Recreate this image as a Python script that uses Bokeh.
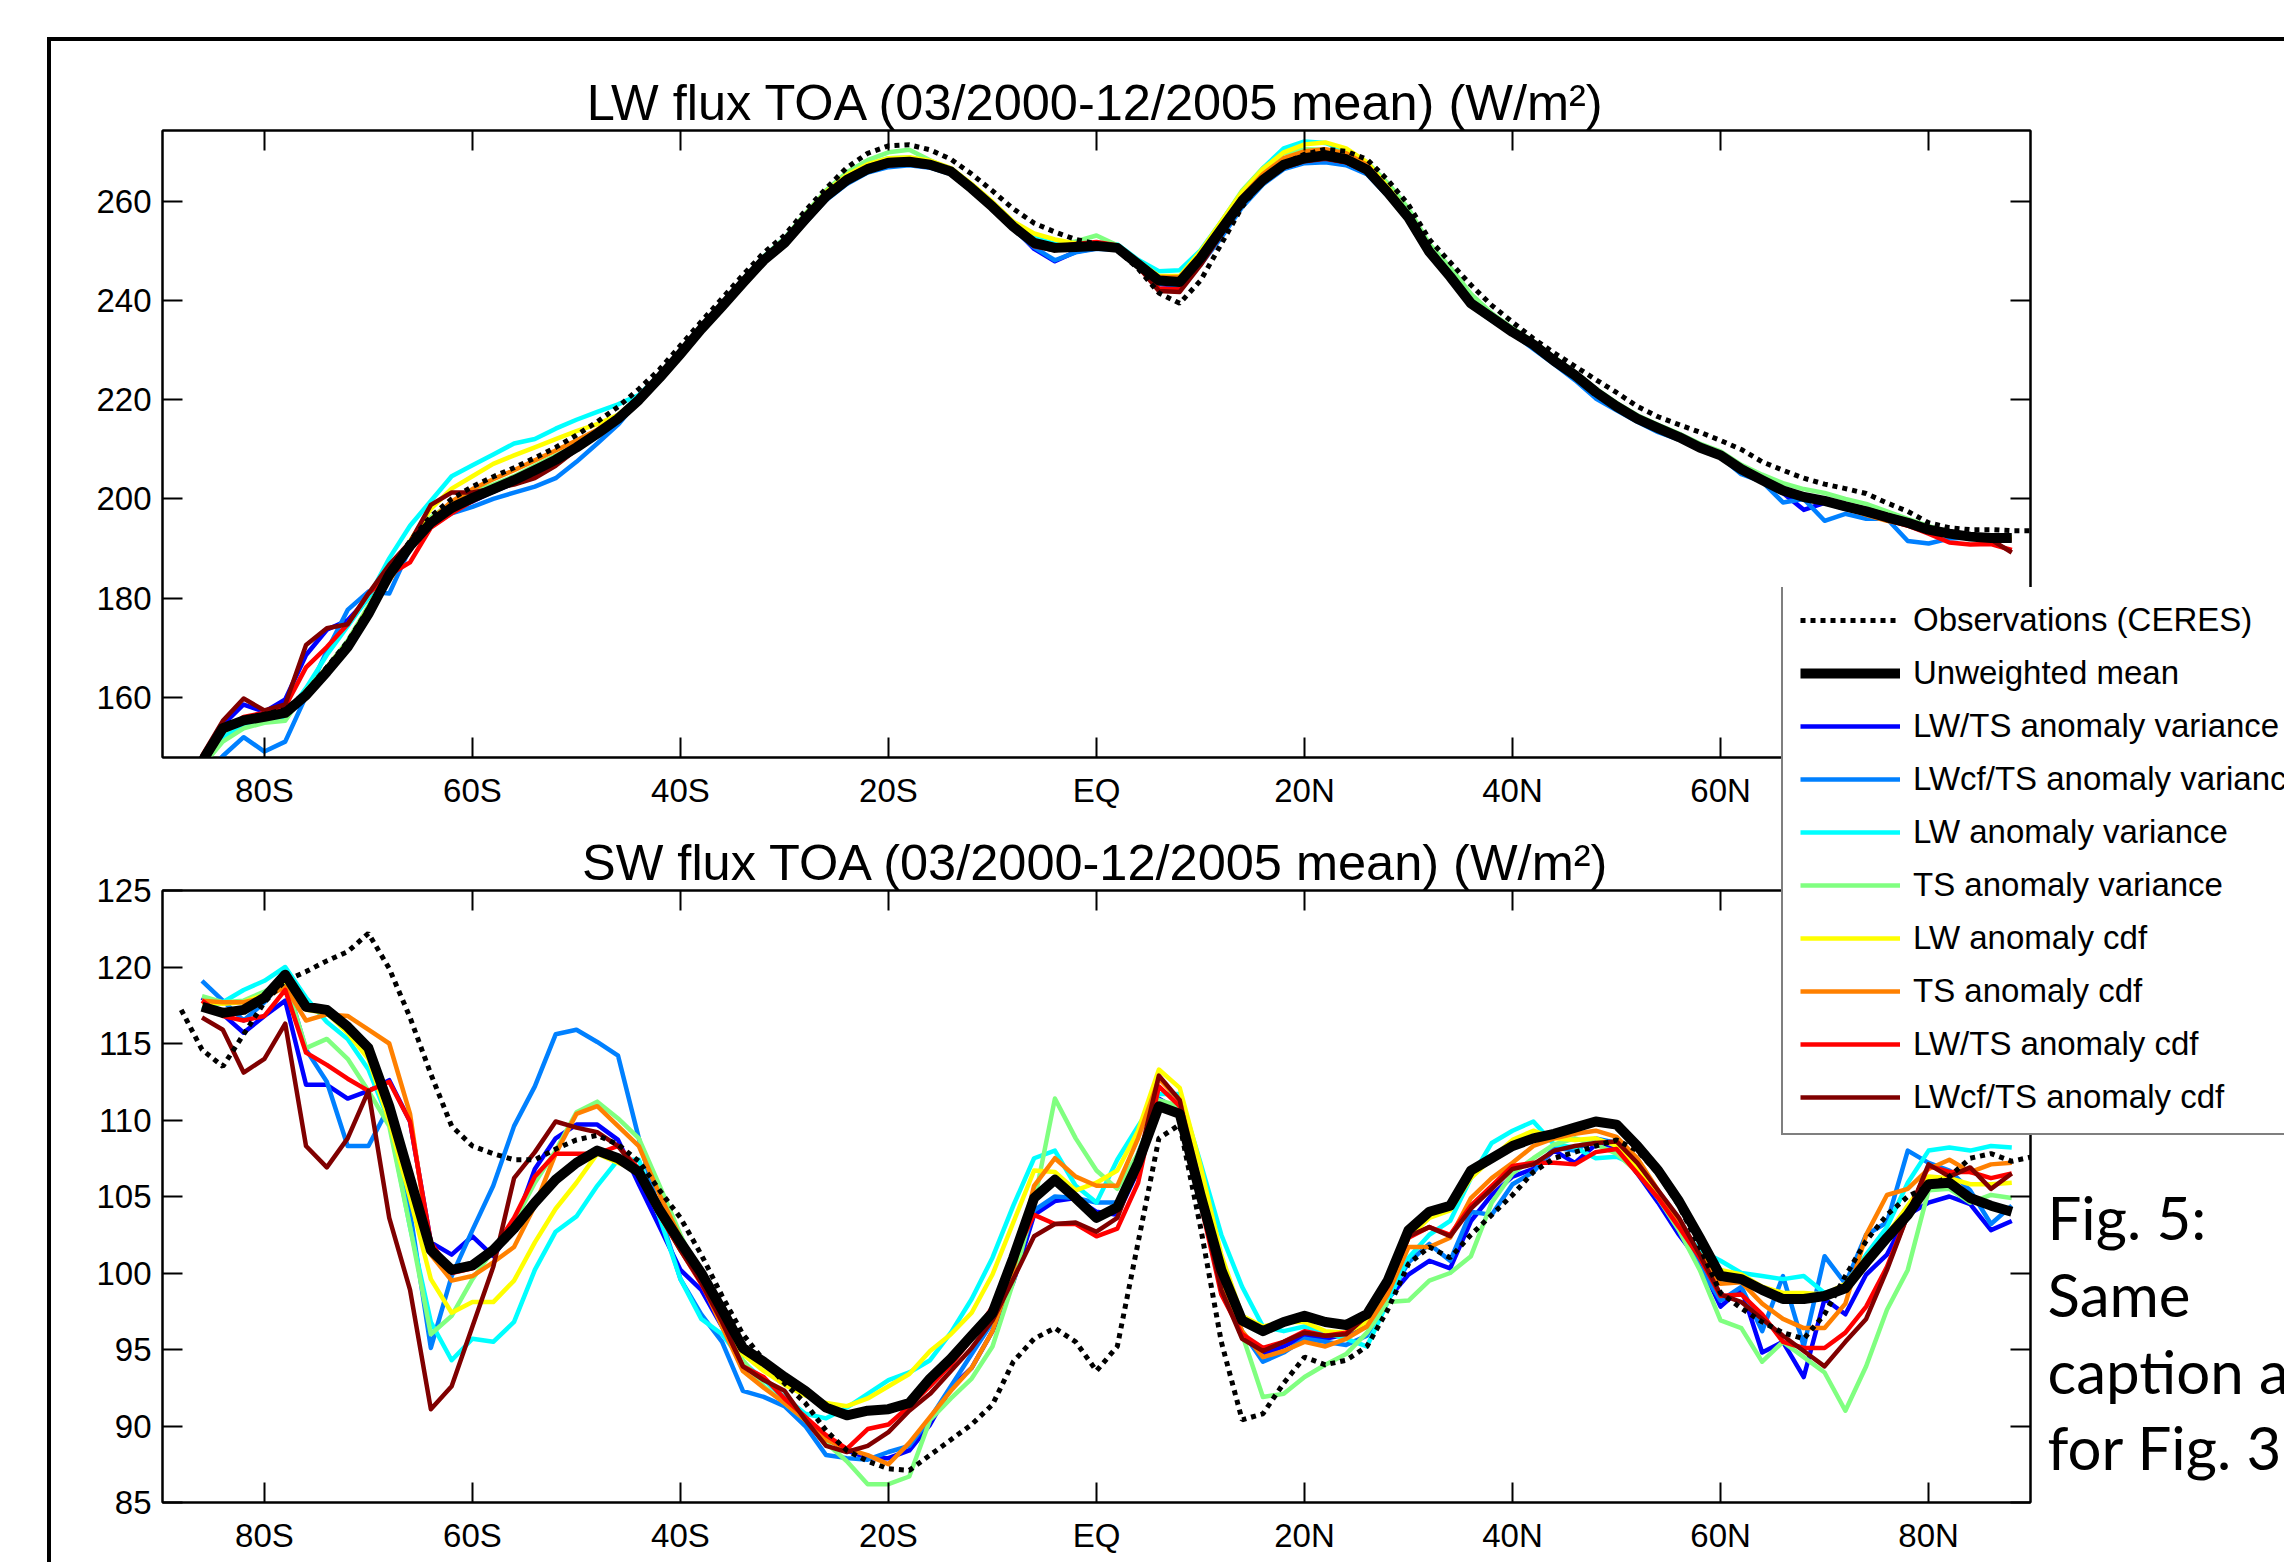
from bokeh.plotting import figure
from bokeh.models import Range1d, LinearAxis, FixedTicker, Legend, LegendItem, Label
from bokeh.layouts import column
from bokeh.embed import file_html
from bokeh.resources import INLINE

FONT = "Liberation Sans"

# ---------------- categories / ticks ----------------
LAT_TICKS = [-80, -60, -40, -20, 0, 20, 40, 60, 80]
LAT_LABELS = ["80S", "60S", "40S", "20S", "EQ", "20N", "40N", "60N", "80N"]
LW_TICKS = [160, 180, 200, 220, 240, 260]
SW_TICKS = [85, 90, 95, 100, 105, 110, 115, 120, 125]

lat_model = list(range(-86, 90, 2))   # -86 ... 88
lat_obs = list(range(-88, 92, 2))     # -88 ... 90

NAMES = ["Observations (CERES)", "Unweighted mean",
         "LW/TS anomaly variance", "LWcf/TS anomaly variance",
         "LW anomaly variance", "TS anomaly variance",
         "LW anomaly cdf", "TS anomaly cdf",
         "LW/TS anomaly cdf", "LWcf/TS anomaly cdf"]
COLORS = ["#0000FF", "#0080FF", "#00FFFF", "#80FF80",
          "#FFFF00", "#FF8000", "#FF0000", "#800000"]

# ---------------- LW flux TOA ----------------
lw_obs = [140.0,
    146.0, 153.2, 155.5, 156.5, 157.5, 161.0, 166.0, 171.2, 177.8, 185.5, 191.5,
    196.5, 200.0, 202.5, 204.5, 206.3, 208.3, 210.4, 212.9, 215.6, 218.6, 222.2,
    226.2, 231.0, 235.8, 240.5, 245.2, 249.7, 253.2, 258.2, 262.7, 266.9, 269.8,
    271.3, 271.5, 270.5, 268.6, 265.6, 262.2, 258.6, 255.7, 253.9, 252.4, 251.5,
    250.3, 246.5, 241.6, 239.5, 244.1, 251.5, 259.0, 264.4, 267.7, 269.6, 270.6,
    270.2, 268.6, 264.4, 259.4, 252.4, 247.8, 243.2, 239.1, 235.7, 232.4, 229.5,
    226.8, 224.1, 221.5, 218.7, 216.6, 215.0, 213.5, 211.8, 210.0, 207.5, 205.8,
    204.2, 203.0, 202.1, 201.1, 199.2, 197.5, 195.2, 194.2, 193.8, 193.8, 193.6,
    193.6]
lw_mean = [
    147.0, 153.7, 155.3, 156.0, 156.8, 160.4, 165.1, 170.1, 176.8, 184.7, 190.5,
    195.2, 198.2, 200.2, 202.0, 203.8, 205.8, 207.9, 210.4, 213.2, 216.2, 220.0,
    224.5, 229.3, 234.3, 238.9, 243.6, 248.2, 251.7, 256.5, 261.1, 264.4, 266.6,
    267.9, 268.1, 267.5, 266.1, 262.7, 259.0, 255.0, 251.7, 250.7, 250.9, 251.1,
    250.7, 247.4, 244.1, 243.8, 248.6, 254.4, 260.2, 264.4, 267.5, 268.8, 269.4,
    268.6, 266.5, 261.9, 256.8, 249.9, 244.9, 239.5, 236.6, 233.7, 231.2, 227.9,
    225.0, 221.6, 218.7, 216.2, 214.3, 212.5, 210.4, 208.8, 206.0, 203.8, 201.7,
    200.4, 199.6, 198.5, 197.5, 196.3, 195.2, 193.8, 193.0, 192.4, 192.1, 192.1]
lw_lwts_var = [
    147.0, 154.4, 158.5, 157.0, 159.5, 168.5, 173.6, 175.5, 180.0, 185.0, 191.0,
    195.5, 197.8, 199.5, 201.5, 203.2, 205.3, 207.5, 210.3, 213.2, 216.2, 220.0,
    224.4, 229.2, 234.2, 238.8, 243.5, 248.0, 251.5, 256.2, 260.7, 264.0, 266.3,
    267.5, 267.8, 267.2, 265.8, 262.6, 259.0, 254.8, 250.5, 248.0, 249.9, 250.6,
    250.5, 247.5, 243.4, 243.0, 247.7, 253.5, 259.5, 263.8, 266.9, 268.2, 268.6,
    267.8, 265.9, 261.5, 256.6, 249.7, 244.8, 239.3, 236.3, 233.5, 230.9, 227.6,
    224.6, 221.2, 218.3, 215.9, 214.0, 212.2, 210.2, 208.8, 205.7, 203.5, 201.2,
    197.8, 199.2, 198.0, 197.0, 196.0, 195.0, 193.6, 193.2, 192.8, 192.5, 192.2]
lw_lwcfts_var = [
    144.0, 148.1, 151.9, 149.0, 151.0, 160.2, 169.3, 177.6, 181.3, 180.9, 190.1,
    194.6, 197.1, 198.4, 200.0, 201.3, 202.5, 204.2, 207.5, 211.2, 215.0, 220.0,
    224.3, 229.0, 234.0, 238.6, 243.3, 247.8, 251.3, 255.8, 260.3, 263.6, 265.9,
    267.0, 267.4, 266.9, 265.6, 262.5, 258.8, 254.5, 250.8, 248.2, 249.8, 250.5,
    250.3, 247.3, 243.5, 243.2, 247.3, 252.8, 258.9, 263.5, 266.6, 267.8, 268.0,
    267.4, 265.6, 261.2, 256.3, 249.5, 244.8, 239.2, 236.0, 233.4, 230.3, 227.2,
    224.0, 220.3, 217.9, 215.6, 213.5, 212.0, 210.1, 208.5, 205.0, 203.5, 199.3,
    200.0, 195.6, 197.0, 196.0, 196.0, 191.5, 191.0, 192.0, 192.2, 192.0, 191.8]
lw_lw_var = [
    146.0, 152.0, 154.3, 155.2, 156.0, 161.8, 168.5, 174.3, 180.1, 188.0, 194.6,
    199.6, 204.6, 206.8, 209.0, 211.2, 212.1, 214.2, 216.0, 217.6, 219.1, 221.0,
    225.0, 229.6, 234.6, 239.3, 244.2, 248.9, 252.6, 257.4, 262.0, 265.4, 267.6,
    268.8, 268.9, 268.2, 266.7, 263.4, 259.8, 255.9, 252.8, 251.5, 251.8, 251.8,
    251.4, 248.3, 246.0, 246.2, 250.2, 256.0, 262.0, 266.8, 270.8, 272.2, 271.9,
    270.4, 267.6, 262.8, 257.3, 250.3, 245.3, 239.9, 236.9, 234.0, 231.3, 228.2,
    225.3, 221.9, 219.0, 216.5, 214.6, 212.8, 210.8, 209.0, 206.3, 204.0, 202.0,
    200.7, 199.9, 198.8, 197.8, 196.6, 195.5, 194.2, 193.3, 192.6, 192.3, 192.3]
lw_ts_var = [
    146.0, 151.0, 153.7, 154.8, 155.2, 161.4, 166.0, 171.4, 178.4, 185.5, 191.3,
    196.3, 199.2, 201.3, 202.9, 204.6, 206.7, 208.8, 210.8, 213.5, 216.5, 220.2,
    224.8, 229.6, 234.6, 239.3, 244.2, 248.9, 252.6, 257.6, 262.3, 266.0, 268.4,
    270.0, 270.5, 268.4, 266.5, 263.0, 259.4, 255.4, 251.8, 251.2, 252.0, 253.2,
    251.2, 247.8, 244.6, 244.6, 249.6, 256.0, 262.3, 266.8, 269.8, 270.6, 270.5,
    269.8, 268.0, 263.8, 258.6, 251.5, 246.8, 241.4, 237.5, 234.5, 231.8, 228.6,
    225.6, 222.3, 219.4, 216.9, 215.0, 213.2, 211.2, 209.6, 206.9, 204.9, 203.2,
    202.0, 201.2, 200.0, 199.0, 197.5, 196.0, 194.5, 193.4, 192.6, 192.4, 192.3]
lw_lw_cdf = [
    147.0, 153.0, 155.0, 156.0, 157.0, 161.0, 166.0, 171.0, 178.0, 185.5, 191.5,
    198.0, 202.1, 204.6, 207.1, 208.8, 210.4, 212.1, 213.7, 215.1, 217.0, 220.5,
    224.9, 229.6, 234.6, 239.2, 244.0, 248.6, 252.4, 257.3, 262.0, 265.4, 267.6,
    268.8, 269.0, 268.3, 266.8, 263.6, 260.0, 256.0, 253.6, 252.4, 251.6, 251.5,
    251.2, 248.0, 245.0, 245.0, 250.0, 256.0, 262.0, 266.6, 270.0, 271.6, 272.0,
    270.8, 268.0, 263.0, 257.4, 250.5, 245.4, 240.0, 237.0, 234.0, 231.3, 228.2,
    225.2, 221.8, 218.9, 216.4, 214.5, 212.7, 210.6, 209.0, 206.2, 204.0, 201.9,
    200.6, 199.8, 198.7, 197.7, 196.5, 195.4, 194.0, 193.2, 192.6, 192.2, 192.2]
lw_ts_cdf = [
    147.0, 153.5, 155.2, 156.0, 157.0, 160.8, 165.5, 170.5, 177.0, 183.5, 190.0,
    195.8, 199.5, 202.0, 204.0, 205.8, 207.8, 209.8, 211.8, 214.0, 216.8, 220.2,
    224.7, 229.5, 234.5, 239.0, 243.8, 248.4, 252.0, 256.9, 261.6, 265.0, 267.2,
    268.4, 268.6, 267.9, 266.4, 263.0, 259.4, 255.4, 252.2, 251.0, 250.6, 250.6,
    250.4, 247.8, 244.8, 244.8, 249.4, 255.2, 261.0, 265.6, 268.8, 270.2, 270.6,
    269.8, 267.5, 262.6, 257.0, 250.2, 245.0, 239.6, 236.7, 233.8, 231.2, 228.0,
    225.1, 221.7, 218.8, 216.3, 214.4, 212.6, 210.5, 208.9, 206.1, 203.8, 201.5,
    200.3, 199.4, 198.3, 196.8, 195.6, 194.8, 193.6, 192.8, 192.2, 192.0, 191.8]
lw_lwts_cdf = [
    147.5, 153.1, 156.0, 156.8, 158.1, 166.0, 170.1, 174.7, 180.9, 184.7, 187.2,
    194.2, 197.1, 199.6, 201.7, 203.4, 205.0, 207.5, 210.0, 212.9, 216.2, 220.0,
    224.4, 229.2, 234.2, 238.8, 243.4, 248.0, 251.4, 256.0, 260.6, 263.9, 266.2,
    267.4, 267.7, 267.2, 265.9, 262.8, 259.0, 255.0, 251.6, 250.8, 251.5, 251.9,
    251.2, 246.8, 242.5, 242.3, 247.8, 253.8, 259.8, 264.0, 267.0, 268.3, 268.8,
    268.0, 266.0, 261.6, 256.6, 249.8, 244.8, 239.4, 236.5, 233.6, 231.0, 227.8,
    224.9, 221.5, 218.6, 216.1, 214.2, 212.4, 210.3, 208.7, 205.9, 203.7, 201.6,
    200.2, 199.2, 198.2, 197.0, 195.8, 194.6, 193.0, 191.2, 190.8, 190.9, 189.7]
lw_lwcfts_cdf = [
    148.1, 155.2, 159.7, 157.3, 158.5, 170.5, 173.9, 174.7, 180.9, 186.7, 191.3,
    198.8, 201.3, 201.3, 202.1, 202.9, 204.2, 206.7, 210.0, 213.2, 216.2, 220.0,
    224.4, 229.2, 234.2, 238.8, 243.4, 248.0, 251.4, 256.0, 260.6, 263.9, 266.2,
    267.4, 267.6, 267.0, 265.7, 262.5, 258.8, 254.8, 251.0, 250.2, 250.8, 251.0,
    250.6, 247.0, 242.0, 241.8, 247.2, 253.4, 259.5, 263.8, 266.9, 268.2, 268.7,
    268.0, 266.0, 261.6, 256.6, 249.8, 244.8, 239.4, 236.5, 233.6, 231.0, 227.8,
    224.9, 221.5, 218.6, 216.1, 214.2, 212.4, 210.3, 208.7, 205.9, 203.8, 201.9,
    200.8, 200.0, 199.0, 198.0, 196.8, 195.6, 194.0, 192.6, 192.2, 191.8, 189.2]

# ---------------- SW flux TOA ----------------
sw_obs = [117.2,
    114.6, 113.5, 115.6, 117.7, 119.1, 119.7, 120.4, 121.0, 122.2, 119.9, 116.7,
    113.0, 109.6, 108.3, 107.8, 107.4, 107.4, 108.1, 108.7, 109.0, 108.4, 107.3,
    105.4, 103.6, 101.2, 98.5, 96.0, 94.3, 92.8, 91.5, 89.7, 88.4, 87.7,
    87.2, 87.1, 88.1, 89.1, 90.1, 91.4, 94.2, 95.7, 96.4, 95.5, 93.6,
    95.2, 102.0, 108.8, 109.7, 103.0, 95.5, 90.4, 90.8, 92.8, 94.5, 94.0,
    94.3, 95.2, 97.6, 100.6, 101.7, 101.0, 102.5, 103.8, 105.1, 106.6, 107.5,
    107.9, 108.3, 108.7, 108.0, 106.5, 104.4, 101.7, 98.7, 97.7, 96.8, 96.1,
    95.7, 97.3, 99.8, 102.1, 103.8, 105.0, 105.7, 106.3, 107.5, 107.8, 107.3,
    107.6]
sw_mean = [
    117.4, 117.0, 117.2, 118.0, 119.5, 117.4, 117.2, 116.1, 114.7, 110.9, 106.2,
    101.5, 100.2, 100.5, 101.5, 102.9, 104.6, 106.1, 107.2, 108.0, 107.5, 106.6,
    104.1, 102.0, 100.0, 97.6, 95.1, 94.2, 93.2, 92.3, 91.2, 90.7, 91.0,
    91.1, 91.5, 93.1, 94.4, 95.9, 97.4, 101.0, 104.9, 106.1, 104.9, 103.6,
    104.3, 107.2, 110.9, 110.4, 105.1, 100.2, 96.9, 96.2, 96.8, 97.2, 96.8,
    96.6, 97.3, 99.5, 102.8, 104.0, 104.4, 106.7, 107.5, 108.3, 108.8, 109.1,
    109.5, 109.9, 109.7, 108.3, 106.7, 104.7, 102.3, 99.8, 99.6, 98.9, 98.3,
    98.3, 98.5, 99.0, 100.7, 102.3, 103.8, 105.8, 105.9, 104.9, 104.4, 104.0]
sw_lwts_var = [
    118.0, 116.9, 115.7, 116.8, 117.8, 112.3, 112.3, 111.4, 111.9, 112.6, 109.9,
    102.0, 101.2, 102.4, 101.1, 103.0, 106.8, 108.8, 109.7, 109.7, 108.7, 105.8,
    103.0, 100.2, 98.9, 96.5, 94.0, 93.1, 91.8, 90.5, 89.2, 88.4, 87.9,
    87.9, 88.4, 90.1, 92.5, 93.8, 96.2, 99.4, 103.8, 104.7, 104.9, 104.0,
    103.8, 106.7, 111.4, 110.6, 104.9, 99.1, 96.0, 94.7, 95.2, 95.9, 95.7,
    96.0, 96.5, 98.3, 99.9, 100.8, 100.3, 103.4, 105.1, 106.3, 106.8, 108.0,
    107.2, 108.4, 108.3, 106.5, 104.6, 102.5, 100.7, 97.8, 99.0, 94.8, 95.5,
    93.2, 98.3, 97.3, 99.9, 101.2, 103.8, 104.6, 105.0, 104.5, 102.8, 103.4]
sw_lwcfts_var = [
    119.1, 117.8, 116.5, 117.7, 119.3, 114.6, 112.5, 108.3, 108.3, 110.9, 104.0,
    95.1, 99.8, 102.8, 105.7, 109.6, 112.2, 115.6, 115.9, 115.1, 114.2, 108.8,
    103.9, 99.6, 97.3, 95.5, 92.3, 91.9, 91.3, 90.0, 88.1, 87.9, 87.8,
    88.3, 88.7, 90.5, 92.6, 94.7, 96.8, 99.9, 104.1, 105.0, 104.9, 104.6,
    104.6, 107.8, 111.3, 110.6, 104.9, 99.1, 96.2, 94.2, 94.8, 95.7, 95.5,
    95.3, 95.9, 98.3, 100.7, 101.9, 100.8, 104.0, 103.8, 105.8, 106.6, 108.2,
    108.0, 108.8, 108.5, 106.8, 104.9, 102.8, 100.4, 98.2, 99.1, 96.2, 99.8,
    95.2, 101.1, 99.3, 102.5, 103.3, 108.0, 107.2, 106.7, 105.4, 103.2, 104.4]
sw_lw_var = [
    117.2, 117.7, 118.5, 119.1, 120.0, 118.0, 116.4, 115.3, 113.3, 109.9, 103.0,
    96.8, 94.3, 95.7, 95.5, 96.8, 100.2, 102.7, 103.7, 105.7, 107.4, 107.4,
    103.6, 99.6, 97.0, 96.0, 94.2, 93.0, 91.9, 90.8, 90.5, 91.2, 92.1,
    93.0, 93.5, 94.3, 96.1, 98.3, 101.0, 104.4, 107.5, 108.0, 105.7, 104.6,
    107.4, 109.6, 111.7, 111.7, 107.2, 102.5, 99.1, 96.5, 96.2, 96.5, 96.1,
    95.7, 95.2, 98.1, 101.0, 102.5, 103.4, 106.2, 108.5, 109.3, 109.9, 108.4,
    108.2, 107.5, 107.6, 107.0, 105.1, 103.0, 101.5, 100.8, 100.0, 99.8, 99.6,
    99.8, 98.7, 99.1, 101.2, 103.0, 105.9, 108.0, 108.2, 108.0, 108.3, 108.2]
sw_ts_var = [
    118.1, 117.7, 117.8, 118.4, 119.1, 114.7, 115.3, 114.0, 111.9, 109.6, 103.0,
    96.0, 97.2, 99.6, 101.5, 103.3, 105.9, 108.0, 110.5, 111.2, 110.1, 108.8,
    105.7, 102.5, 99.6, 97.0, 94.3, 92.6, 91.5, 90.4, 88.9, 87.7, 86.2,
    86.2, 86.7, 90.4, 91.8, 93.1, 95.2, 99.4, 104.6, 111.4, 108.8, 106.7,
    105.5, 107.8, 111.3, 110.9, 104.9, 99.4, 96.0, 91.9, 92.1, 93.2, 94.0,
    94.7, 96.1, 98.1, 98.2, 99.5, 100.0, 101.1, 104.6, 106.5, 107.5, 108.4,
    108.8, 108.4, 107.8, 106.6, 104.9, 102.8, 100.2, 96.9, 96.4, 94.2, 95.5,
    94.5, 93.5, 91.0, 93.9, 97.6, 100.2, 105.4, 105.5, 104.6, 105.1, 104.9]
sw_lw_cdf = [
    117.7, 117.6, 117.7, 118.2, 119.1, 117.2, 117.0, 115.7, 114.0, 109.9, 104.9,
    99.6, 97.4, 98.1, 98.1, 99.5, 102.0, 104.2, 105.9, 107.8, 107.2, 106.7,
    103.8, 101.5, 99.4, 97.0, 94.7, 93.6, 92.7, 92.0, 91.5, 91.3, 91.8,
    92.6, 93.4, 94.9, 96.0, 97.4, 99.9, 103.3, 106.7, 106.6, 105.4, 105.9,
    106.7, 109.3, 113.3, 112.1, 107.0, 101.2, 97.2, 96.5, 96.8, 96.8, 96.2,
    96.1, 96.8, 99.1, 102.3, 103.6, 104.1, 106.2, 107.5, 108.7, 109.3, 108.8,
    108.7, 108.8, 108.3, 106.8, 105.1, 103.0, 101.2, 100.2, 99.9, 99.1, 98.7,
    98.7, 98.6, 99.3, 101.0, 102.5, 104.4, 106.3, 106.2, 105.8, 105.8, 105.9]
sw_ts_cdf = [
    117.8, 117.7, 117.7, 118.0, 118.7, 116.5, 116.9, 116.8, 115.9, 115.0, 110.4,
    101.2, 99.5, 99.8, 100.7, 101.7, 104.4, 107.8, 110.4, 110.9, 109.6, 108.3,
    105.1, 102.3, 99.4, 96.5, 93.6, 92.5, 91.5, 90.4, 89.1, 88.5, 88.1,
    87.5, 88.9, 90.6, 92.3, 93.8, 96.2, 100.2, 105.7, 107.5, 106.3, 105.7,
    105.7, 108.8, 112.7, 111.3, 105.7, 99.6, 96.2, 94.5, 94.9, 95.5, 95.2,
    95.7, 96.5, 98.6, 101.7, 101.7, 102.3, 104.9, 106.2, 107.2, 108.3, 108.8,
    109.1, 109.3, 108.9, 107.5, 105.4, 103.3, 101.2, 99.3, 99.4, 98.0, 97.0,
    96.4, 96.4, 98.0, 102.5, 105.1, 105.5, 106.8, 107.4, 106.6, 107.1, 107.2]
sw_lwts_cdf = [
    117.8, 116.8, 116.5, 116.8, 118.5, 114.4, 113.6, 112.7, 111.9, 112.5, 109.9,
    102.0, 100.0, 100.3, 101.5, 103.6, 106.3, 107.8, 107.8, 107.8, 108.3, 106.8,
    103.8, 101.5, 99.3, 96.8, 93.9, 93.2, 91.8, 90.6, 89.4, 88.5, 89.8,
    90.1, 91.3, 92.6, 94.0, 95.7, 97.8, 101.0, 103.8, 103.2, 103.2, 102.4,
    102.9, 105.9, 112.2, 110.9, 104.6, 98.6, 96.0, 95.1, 95.5, 96.2, 95.9,
    96.1, 97.2, 99.1, 102.3, 103.0, 102.5, 104.4, 105.7, 107.0, 107.2, 107.2,
    107.1, 107.9, 108.1, 106.5, 104.9, 103.0, 101.0, 98.5, 98.6, 97.3, 95.5,
    95.1, 95.1, 96.1, 97.8, 100.4, 103.8, 107.0, 106.6, 106.6, 106.2, 106.5]
sw_lwcfts_cdf = [
    116.7, 115.9, 113.1, 114.0, 116.3, 108.3, 106.9, 108.8, 111.9, 103.6, 98.9,
    91.1, 92.6, 96.5, 100.4, 106.2, 107.9, 109.9, 109.5, 109.2, 108.3, 106.6,
    103.8, 101.5, 99.4, 96.8, 93.9, 93.0, 92.3, 90.4, 88.7, 88.3, 88.7,
    89.6, 91.0, 92.1, 93.6, 95.1, 96.9, 99.6, 102.4, 103.2, 103.3, 102.7,
    103.6, 107.2, 112.9, 111.3, 104.9, 98.9, 95.7, 94.9, 95.5, 96.1, 95.9,
    96.0, 97.2, 99.4, 102.4, 103.0, 102.4, 104.2, 105.5, 106.8, 107.1, 108.0,
    108.3, 108.5, 108.6, 107.2, 105.4, 103.6, 101.2, 98.6, 98.1, 97.0, 95.9,
    94.9, 93.9, 95.5, 97.0, 100.2, 103.8, 107.1, 106.3, 106.9, 105.5, 106.5]

CAPTION_LINES = ["Fig. 5:", "Same", "caption as", "for Fig. 3."]

LW_MODELS = [lw_lwts_var, lw_lwcfts_var, lw_lw_var, lw_ts_var,
             lw_lw_cdf, lw_ts_cdf, lw_lwts_cdf, lw_lwcfts_cdf]
SW_MODELS = [sw_lwts_var, sw_lwcfts_var, sw_lw_var, sw_ts_var,
             sw_lw_cdf, sw_ts_cdf, sw_lwts_cdf, sw_lwcfts_cdf]

PANEL_W = 2233          # canvas width of each panel
FRAME_W = 1868
BORDER_L = 111
W_MODEL, W_MEAN, W_OBS, OBS_DASH = 4.5, 10, 5, "5 5"


def style_axis(ax, ticks, labels=None, show_labels=True, standoff=12):
    ax.ticker = FixedTicker(ticks=ticks)
    ax.axis_line_color = "black"
    ax.axis_line_width = 2
    ax.major_tick_line_color = "black"
    ax.major_tick_line_width = 2
    ax.major_tick_in = 20
    ax.major_tick_out = 0
    ax.minor_tick_line_color = None
    if labels is not None:
        ax.major_label_overrides = {t: l for t, l in zip(ticks, labels)}
    if show_labels:
        ax.major_label_text_font = FONT
        ax.major_label_text_font_size = "33px"
        ax.major_label_text_color = "black"
        ax.major_label_standoff = standoff
    else:
        ax.major_label_text_color = None
        ax.major_label_text_font_size = "1px"
        ax.major_label_standoff = 0


def make_panel(title, y_lo, y_hi, yticks, obs, mean, models,
               frame_h, top_b, bot_b):
    p = figure(frame_width=FRAME_W, frame_height=frame_h,
               min_border_left=BORDER_L,
               min_border_right=PANEL_W - BORDER_L - FRAME_W,
               min_border_top=top_b, min_border_bottom=bot_b,
               x_range=Range1d(-89.8, 89.8), y_range=Range1d(y_lo, y_hi),
               output_backend="svg", toolbar_location=None, title=title)
    p.xgrid.visible = False
    p.ygrid.visible = False
    p.outline_line_color = "black"
    p.outline_line_width = 2
    p.background_fill_color = "white"
    p.border_fill_color = "white"
    p.title.align = "center"
    p.title.text_font = FONT
    p.title.text_font_size = "50.5px"
    p.title.text_font_style = "normal"
    p.title.text_color = "black"
    p.title.standoff = 0

    style_axis(p.xaxis[0], LAT_TICKS, LAT_LABELS, True, 14)
    style_axis(p.yaxis[0], yticks, None, True, 11)
    top_ax = LinearAxis()
    style_axis(top_ax, LAT_TICKS, None, False)
    p.add_layout(top_ax, "above")
    right_ax = LinearAxis()
    style_axis(right_ax, yticks, None, False)
    p.add_layout(right_ax, "right")

    for vals, color in zip(models, COLORS):
        p.line(lat_model[:len(vals)], vals, line_color=color,
               line_width=W_MODEL, line_join="round")
    p.line(lat_obs[:len(obs)], obs, line_color="black",
           line_width=W_OBS, line_dash=OBS_DASH)
    p.line(lat_model[:len(mean)], mean, line_color="black",
           line_width=W_MEAN, line_join="round")
    return p


p1 = make_panel("LW flux TOA (03/2000-12/2005 mean) (W/m²)", 147.8, 274.4, LW_TICKS,
                lw_obs, lw_mean, LW_MODELS, frame_h=627, top_b=89, bot_b=55)
p2 = make_panel("SW flux TOA (03/2000-12/2005 mean) (W/m²)", 85, 125, SW_TICKS,
                sw_obs, sw_mean, SW_MODELS, frame_h=612, top_b=78, bot_b=60)

# ---- transparent overlay (same width as the panels, frame = whole canvas, not
#      aligned with the panels) holding the shared legend and the caption ----
OV_H = 975
p3 = figure(frame_width=PANEL_W, frame_height=OV_H, min_border=0,
            x_range=Range1d(0, 1), y_range=Range1d(0, 1),
            x_axis_type=None, y_axis_type=None, title=None,
            output_backend="svg", toolbar_location=None,
            margin=(-OV_H, 0, 0, 0))
p3.frame_align = False
p3.outline_line_color = None
p3.background_fill_color = None
p3.border_fill_color = None

# legend proxies (their data lie outside the overlay's ranges, so only the legend shows them)
px, py = [-3, -2], [-3, -3]
proxies = [p3.line(px, py, line_color="black", line_width=W_OBS, line_dash=OBS_DASH),
           p3.line(px, py, line_color="black", line_width=W_MEAN)]
for color in COLORS:
    proxies.append(p3.line(px, py, line_color=color, line_width=W_MODEL))

leg = Legend(items=[LegendItem(label=n, renderers=[r]) for n, r in zip(NAMES, proxies)],
             location=(1730, 427), padding=17, spacing=15, margin=0,
             label_height=38, glyph_height=38, glyph_width=100,
             label_standoff=13,
             label_text_font=FONT, label_text_font_size="33px",
             label_text_color="black",
             border_line_color="black", border_line_width=2,
             background_fill_color="white", background_fill_alpha=1.0)
p3.add_layout(leg)

for txt, yb in zip(CAPTION_LINES, [346, 269, 192, 116]):
    p3.add_layout(Label(x=1996, y=yb, x_units="screen", y_units="screen",
                        text=txt, text_font="Lato", text_font_size="60px",
                        text_color="black", text_baseline="alphabetic",
                        text_align="left"))

layout = column(p1, p2, p3, spacing=0, margin=(37, 0, 0, 47),
                styles={"border-top": "4px solid black",
                        "border-left": "4px solid black"})

open("out.html", "w").write(file_html(layout, INLINE, title="LW and SW flux TOA"))
